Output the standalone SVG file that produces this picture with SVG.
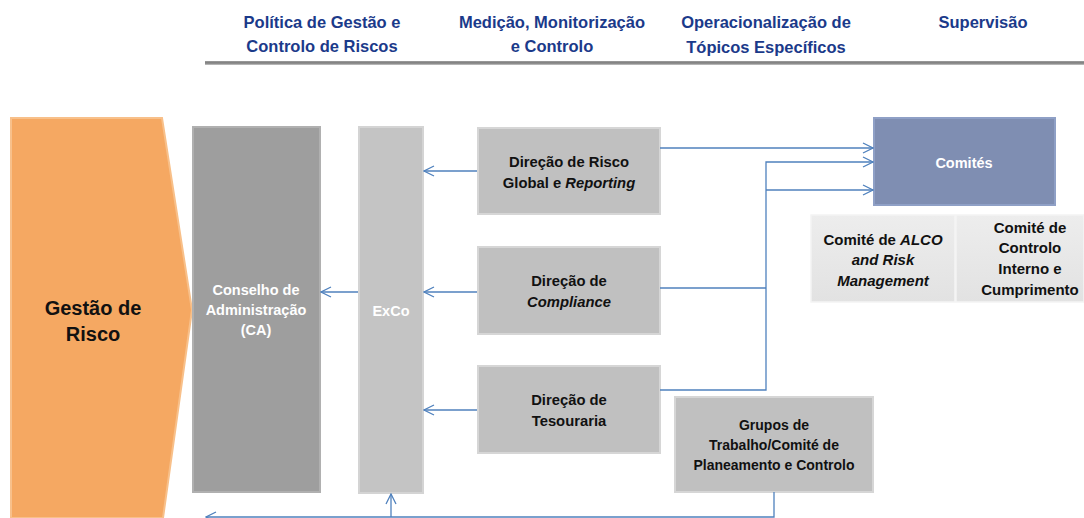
<svg xmlns="http://www.w3.org/2000/svg" width="1084" height="518" viewBox="0 0 1084 518">
<style>
.hdr{font-family:"Liberation Sans",Arial,sans-serif;font-weight:bold;font-size:16.5px;fill:#1B3A8A;text-anchor:middle}
.t{font-family:"Liberation Sans",Arial,sans-serif;font-weight:bold;font-size:14.8px;fill:#111;text-anchor:middle}
.tc{font-family:"Liberation Sans",Arial,sans-serif;font-weight:bold;font-size:15px;fill:#111;text-anchor:middle}
.tw{font-family:"Liberation Sans",Arial,sans-serif;font-weight:bold;font-size:14.5px;fill:#fff;text-anchor:middle}
.ts{font-family:"Liberation Sans",Arial,sans-serif;font-weight:bold;font-size:14px;fill:#111;text-anchor:middle}
.big{font-family:"Liberation Sans",Arial,sans-serif;font-weight:bold;font-size:20px;fill:#111;text-anchor:middle}
.i{font-style:italic}
.box{fill:#C0C0C0;stroke:#D6D6D6;stroke-width:2}
.conn{fill:none;stroke:#4F81BD;stroke-width:1.3}
</style>
<defs>
<marker id="ah" viewBox="0 0 12 12" refX="11" refY="6" markerWidth="12" markerHeight="12" markerUnits="userSpaceOnUse" orient="auto">
<path d="M1,1 L11,6 L1,11" fill="none" stroke="#4F81BD" stroke-width="1.3"/>
</marker>
<linearGradient id="lg" x1="0" y1="0" x2="0" y2="1">
<stop offset="0" stop-color="#EDEDED"/><stop offset="1" stop-color="#E2E2E2"/>
</linearGradient>
<linearGradient id="hl" x1="0" y1="0" x2="0" y2="1">
<stop offset="0" stop-color="#A0A0A0"/><stop offset="0.5" stop-color="#7A7A7A"/><stop offset="1" stop-color="#C8C8C8"/>
</linearGradient>
</defs>

<g id="header">
<rect x="205" y="61" width="879" height="4" fill="url(#hl)"/>
<text class="hdr" x="322" y="28">Política de Gestão e</text>
<text class="hdr" x="322" y="52">Controlo de Riscos</text>
<text class="hdr" x="552" y="28">Medição, Monitorização</text>
<text class="hdr" x="552" y="52">e Controlo</text>
<text class="hdr" x="766" y="28">Operacionalização de</text>
<text class="hdr" x="766" y="53">Tópicos Específicos</text>
<text class="hdr" x="983" y="28">Supervisão</text>
</g>

<g id="gestao">
<path d="M11,118 L162,118 L192,310 L163,518 L11,518 Z" fill="#F5A862" stroke="#F8C08A" stroke-width="2"/>
<text class="big" x="93" y="315">Gestão de</text>
<text class="big" x="93" y="341">Risco</text>
</g>

<g id="ca">
<rect x="193" y="127" width="127" height="365" fill="#9E9E9E" stroke="#B0B0B0" stroke-width="2"/>
<text class="tw" x="256" y="295">Conselho de</text>
<text class="tw" x="256" y="315">Administração</text>
<text class="tw" x="256" y="335">(CA)</text>
</g>

<g id="exco">
<rect x="359" y="127" width="64" height="366" fill="#C4C4C4" stroke="#D4D4D4" stroke-width="2"/>
<text class="tw" x="391" y="316">ExCo</text>
</g>

<g id="risco">
<rect class="box" x="478" y="128" width="182" height="86"/>
<text class="t" x="569" y="167">Direção de Risco</text>
<text class="t" x="569" y="188">Global e <tspan class="i">Reporting</tspan></text>
</g>

<g id="compliance">
<rect class="box" x="478" y="247" width="182" height="87"/>
<text class="t" x="569" y="286">Direção de</text>
<text class="t i" x="569" y="307">Compliance</text>
</g>

<g id="tesouraria">
<rect class="box" x="478" y="366" width="182" height="87"/>
<text class="t" x="569" y="405">Direção de</text>
<text class="t" x="569" y="426">Tesouraria</text>
</g>

<g id="comites">
<rect x="874" y="118" width="181" height="87" fill="#7F8EB2" stroke="#8FA0C6" stroke-width="2"/>
<text class="tw" x="964" y="168">Comités</text>
</g>

<g id="alco">
<rect x="811" y="215" width="144" height="87" fill="url(#lg)" stroke="#F4F4F4" stroke-width="1.5"/>
<text class="tc" x="883" y="245">Comité de <tspan class="i">ALCO</tspan></text>
<text class="tc i" x="883" y="265">and Risk</text>
<text class="tc i" x="883" y="286">Management</text>
</g>

<g id="controlo">
<rect x="956" y="215" width="128" height="87" fill="url(#lg)" stroke="#F4F4F4" stroke-width="1.5"/>
<text class="tc" x="1030" y="233">Comité de</text>
<text class="tc" x="1030" y="253">Controlo</text>
<text class="tc" x="1030" y="274">Interno e</text>
<text class="tc" x="1030" y="295">Cumprimento</text>
</g>

<g id="grupos">
<rect class="box" x="675" y="397" width="198" height="95"/>
<text class="ts" x="774" y="430">Grupos de</text>
<text class="ts" x="774" y="450">Trabalho/Comité de</text>
<text class="ts" x="774" y="470">Planeamento e Controlo</text>
</g>

<g id="connectors">
<line class="conn" x1="358" y1="292" x2="321" y2="292" marker-end="url(#ah)"/>
<line class="conn" x1="477" y1="171" x2="424" y2="171" marker-end="url(#ah)"/>
<line class="conn" x1="477" y1="292" x2="424" y2="292" marker-end="url(#ah)"/>
<line class="conn" x1="477" y1="410" x2="424" y2="410" marker-end="url(#ah)"/>
<line class="conn" x1="660" y1="148" x2="873" y2="148" marker-end="url(#ah)"/>
<polyline class="conn" points="660,288 766,288"/>
<polyline class="conn" points="660,390 766,390 766,162 873,162" marker-end="url(#ah)"/>
<polyline class="conn" points="766,190 873,190" marker-end="url(#ah)"/>
<polyline class="conn" points="774,492 774,517 206,517" marker-end="url(#ah)"/>
<line class="conn" x1="391" y1="517" x2="391" y2="494" marker-end="url(#ah)"/>
</g>
</svg>
